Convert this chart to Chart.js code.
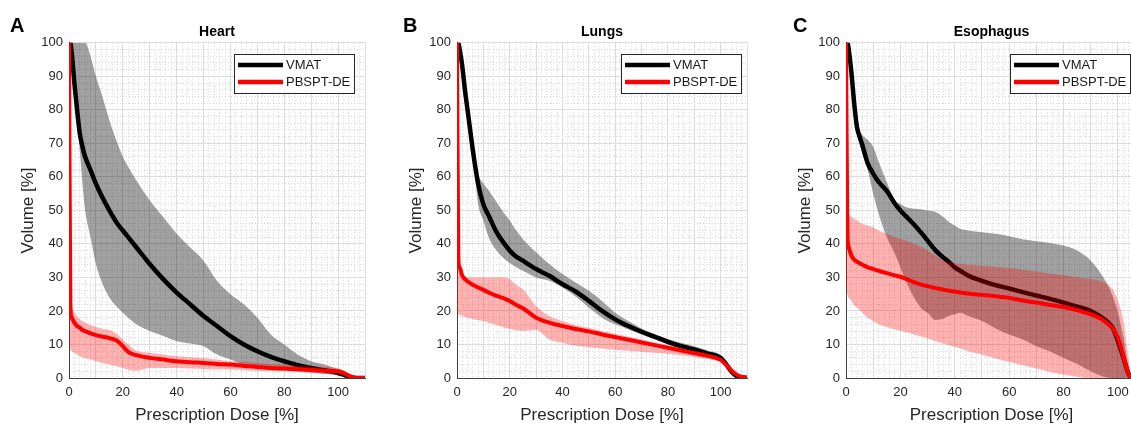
<!DOCTYPE html>
<html>
<head>
<meta charset="utf-8">
<script src="https://cdn.jsdelivr.net/npm/chart.js@4.4.1/dist/chart.umd.min.js"></script>
<style>
  html, body { margin: 0; padding: 0; background: #fff; overflow: hidden; }
  body { width: 1131px; height: 426px; position: relative; }
  canvas { position: absolute; top: 0; }
  .tag { position: absolute; top: 14px; font: bold 20px "Liberation Sans", Arial, sans-serif; color: #000; }
</style>
</head>
<body>
<canvas id="heartChart" width="380" height="426" style="left:0"></canvas>
<canvas id="lungsChart" width="380" height="426" style="left:380px"></canvas>
<canvas id="esoChart" width="380" height="426" style="left:760px"></canvas>
<div class="tag" style="left:10px">A</div>
<div class="tag" style="left:403px">B</div>
<div class="tag" style="left:793px">C</div>
<script>
// ---------- DATA (dose in %, volume in %) ----------

var doseAB = [0, 0.5, 1, 2, 3, 4, 5, 6, 8, 10, 12, 15, 18, 20, 22, 25, 30, 35, 40, 45, 50, 55, 60, 65, 70, 75, 80, 85, 90, 95, 100, 102, 104, 106, 108, 110];
var doseC = [0, 0.5, 1, 2, 3, 4, 5, 6, 8, 10, 12, 15, 18, 20, 22, 25, 28, 30, 33, 35, 38, 40, 42, 45, 50, 55, 60, 65, 70, 75, 80, 85, 90, 95, 98, 100, 102, 104, 105];

// Heart
var heartVmat   = [100, 100, 97, 88, 80, 73, 69, 66, 62, 58, 54.5, 50, 46, 44, 42, 39, 34, 29.5, 25.5, 22, 18.5, 15.5, 12.5, 10, 8, 6.3, 5, 3.8, 3, 2.3, 1.5, 1, 0.4, 0, 0, 0];
var heartVmatHi = [100, 100, 100, 100, 100, 100, 100, 100, 96, 90, 85, 77, 70, 66, 63, 59, 53, 48, 43, 39, 35, 29, 25, 22, 18, 13, 10, 7, 5, 4, 2.5, 1.5, 0.5, 0, 0, 0];
var heartVmatLo = [100, 98, 95, 85, 78, 68, 58, 50, 42, 34, 29, 24, 21, 19.5, 18, 16, 14, 12.5, 11, 10.3, 9.5, 7, 5.5, 4, 3.3, 3, 2.5, 2, 1.7, 1.3, 0.8, 0.5, 0.2, 0, 0, 0];
var heartPb     = [100, 22, 18, 16.5, 15.5, 15, 14.3, 14, 13.3, 12.8, 12.4, 11.9, 11, 9.5, 7.8, 6.8, 6, 5.5, 5, 4.7, 4.5, 4.2, 4, 3.6, 3.3, 3, 2.8, 2.6, 2.4, 2.2, 2, 1.5, 0.7, 0.2, 0, 0];
var heartPbHi   = [100, 23, 21, 19.5, 18.5, 17.5, 17, 16.5, 15.8, 15.2, 14.8, 14.3, 13, 11.5, 10, 8.2, 7.5, 7, 6.5, 6.2, 6, 5.5, 5, 4.8, 4.5, 4.2, 4, 3.8, 3.5, 3.2, 3, 2, 1, 0.3, 0, 0];
var heartPbLo   = [9, 8.5, 8, 7.5, 7, 6.5, 6.2, 6, 5.5, 5, 4.6, 4, 3.4, 3, 2.5, 2.2, 3, 3, 3, 2.8, 2.7, 2.6, 2.5, 2.3, 2.2, 2.1, 2, 1.8, 1.5, 1.2, 1, 0.7, 0.3, 0, 0, 0];

// Lungs
var lungsVmat   = [99, 100, 98, 93, 86, 80, 74, 68, 58, 51.8, 48.5, 43.5, 40, 38, 36.5, 35, 32.5, 30.5, 28, 25.8, 23, 20, 17.5, 15.5, 13.8, 12.3, 10.8, 9.5, 8.5, 7.3, 6, 4.2, 2, 0.6, 0.1, 0];
var lungsVmatHi = [100, 100, 100, 94, 87, 81, 75, 69.5, 61, 58, 56, 52.5, 49, 47, 44.5, 41.5, 37.5, 34, 31, 28.5, 26, 23, 19.5, 17, 14.8, 13.1, 11.6, 10.5, 9.5, 8.3, 6.8, 4.8, 2.4, 0.8, 0.2, 0];
var lungsVmatLo = [98, 99, 97, 92, 85, 79, 73, 67, 52, 47, 42, 38, 35.5, 34.3, 33.3, 32, 30, 29, 27, 24.3, 21, 18, 16, 14.5, 13, 11.5, 10, 8.7, 7.7, 6.5, 5.2, 3.6, 1.6, 0.4, 0, 0];
var lungsPb     = [100, 36, 33, 30.5, 29.5, 28.8, 28.3, 27.8, 27, 26.3, 25.5, 24.5, 23.7, 23, 22, 20.8, 18, 16.5, 15.5, 14.6, 13.9, 13, 12.2, 11.4, 10.6, 9.8, 9, 8.2, 7.4, 6.6, 5.4, 4, 2.3, 1, 0.4, 0.2];
var lungsPbHi   = [100, 37, 34, 31.5, 30.5, 30, 30, 30, 30, 30, 30, 30, 30, 29.5, 28, 26.5, 21.5, 18.5, 17, 15.7, 15, 14, 13.2, 12.3, 11.5, 10.6, 9.8, 8.9, 8.1, 7.2, 6, 4.5, 2.6, 1.2, 0.5, 0.2];
var lungsPbLo   = [19, 19, 18.8, 18.5, 18.2, 18, 17.8, 17.5, 17.2, 17, 16.5, 15.8, 15, 14.7, 14.3, 14, 14.3, 11.5, 10.5, 9.6, 9.2, 8.8, 8.4, 8.1, 7.8, 7.5, 7.2, 6.8, 6.3, 5.7, 4.8, 3.5, 2, 0.8, 0.3, 0.1];

// Esophagus
var esoVmat   = [99, 100, 98, 91, 82, 75, 72, 69.5, 64, 61, 58.5, 55.8, 52, 50, 48.3, 45.8, 43, 41, 38, 36.5, 34.5, 33, 32, 30.5, 29, 27.7, 26.7, 25.6, 24.6, 23.6, 22.5, 21.3, 20, 17.5, 15, 11, 6, 1, 0];
var esoVmatHi = [100, 100, 100, 93, 85, 79, 74, 72.5, 71, 69, 64.5, 58.5, 53, 52, 51, 50.5, 50.3, 50, 49.5, 48.5, 46.5, 45.5, 44.5, 44, 43.5, 43, 42.3, 41.4, 40.8, 40.3, 39.5, 38, 35, 29.5, 24.5, 19.5, 12, 3, 0];
var esoVmatLo = [98, 99, 97, 90, 81, 73, 70, 67, 62, 55, 49, 42, 37, 33, 29, 24, 20.5, 19.5, 17.3, 17.5, 18.6, 19, 19.5, 18.5, 17, 14.8, 13, 11.5, 9.5, 7.9, 6, 4.2, 2, 0.3, 0, 0, 0, 0, 0];
var esoPb     = [100, 44, 39, 36.5, 35.3, 34.7, 34.2, 33.8, 33, 32.5, 32, 31.3, 30.6, 30.2, 29.6, 28.6, 27.8, 27.4, 26.8, 26.5, 26, 25.8, 25.5, 25.2, 24.8, 24.4, 23.9, 23.1, 22.5, 21.8, 21.2, 20.2, 19, 17, 14.8, 12, 6.4, 1, 0];
var esoPbHi   = [100, 49, 48.5, 48, 47.5, 47, 46.5, 46, 45.5, 45, 44, 43, 42, 41.5, 41, 40, 39, 38, 36.5, 35.5, 34.5, 34.2, 34, 33.8, 33.5, 33.2, 32.8, 32.3, 31.8, 31.2, 30.7, 30, 29.5, 28.5, 26.5, 23, 17, 5, 0];
var esoPbLo   = [28, 25, 24, 23, 21.8, 21, 20.3, 19.5, 18, 17, 16, 15.2, 14.5, 14, 13.7, 13, 12.3, 11.8, 11, 10.5, 9.8, 9.3, 8.8, 8, 7, 5.8, 4.8, 3.8, 2.8, 1.8, 1, 0.4, 0, 0, 0, 0, 0, 0, 0];

var seriesNames = ['VMAT', 'PBSPT-DE'];
var xTitle = 'Prescription Dose [%]';
var yTitle = 'Volume [%]';

Chart.defaults.font.family = '"Liberation Sans", Arial, sans-serif';
Chart.defaults.color = '#262626';
Chart.defaults.animation = false;

function pts(xs, ys) {
  return xs.map(function(x, i) { return {x: x, y: ys[i]}; });
}

// legend box drawn inside the plot, top right, like the matlab one
var legendBox = {
  id: 'legendBox',
  afterDraw: function(chart, args, opts) {
    var ctx = chart.ctx, area = chart.chartArea;
    var w = 120, h = 39;
    var left = Math.round(area.right - opts.inset - w), top = Math.round(area.top + 11);
    var colors = ['#000000', '#ff0000'];
    ctx.save();
    ctx.fillStyle = '#fff';
    ctx.fillRect(left, top, w, h);
    ctx.strokeStyle = '#262626';
    ctx.lineWidth = 1;
    ctx.strokeRect(left + 0.5, top + 0.5, w, h);
    ctx.font = '13px "Liberation Sans", Arial, sans-serif';
    ctx.textBaseline = 'middle';
    seriesNames.forEach(function(name, i) {
      var y = top + 11 + i * 17;
      ctx.strokeStyle = colors[i];
      ctx.lineWidth = 4.5;
      ctx.beginPath();
      ctx.moveTo(left + 4, y);
      ctx.lineTo(left + 49, y);
      ctx.stroke();
      ctx.fillStyle = '#1a1a1a';
      ctx.fillText(name, left + 52, y);
    });
    ctx.restore();
  }
};

function makePanel(id, title, dose, vmat, vmatHi, vmatLo, pb, pbHi, pbLo, o) {
  var line = {pointRadius: 0, cubicInterpolationMode: 'monotone', borderJoinStyle: 'round', borderCapStyle: 'round'};
  var band = {pointRadius: 0, cubicInterpolationMode: 'monotone', borderWidth: 0, borderColor: 'transparent'};
  return new Chart(document.getElementById(id), {
    type: 'line',
    data: {
      datasets: [
        Object.assign({label: seriesNames[1], data: pts(dose, pb), borderColor: '#ff0000', borderWidth: 4, fill: false}, line),
        Object.assign({label: 'pb upper', data: pts(dose, pbHi), backgroundColor: 'rgba(255,0,0,0.3)', fill: '+1'}, band),
        Object.assign({label: 'pb lower', data: pts(dose, pbLo), fill: false}, band),
        Object.assign({label: seriesNames[0], data: pts(dose, vmat), borderColor: '#000000', borderWidth: 4.5, fill: false}, line),
        Object.assign({label: 'vmat upper', data: pts(dose, vmatHi), backgroundColor: 'rgba(0,0,0,0.37)', fill: '+1'}, band),
        Object.assign({label: 'vmat lower', data: pts(dose, vmatLo), fill: false}, band)
      ]
    },
    options: {
      responsive: false,
      layout: {padding: {left: 0, right: o.padRight, top: 0, bottom: 0}},
      plugins: {
        legend: {display: false},
        tooltip: {enabled: false},
        title: {display: true, text: title, fullSize: false, color: '#000', font: {size: 14, weight: 'bold', lineHeight: 1.2}, padding: {top: 24, bottom: 2}},
        legendBox: {inset: o.legendInset}
      },
      scales: {
        x: {
          type: 'linear', min: 0, max: o.xMax,
          border: {color: '#404040', width: 1},
          grid: {color: '#dedede', drawTicks: false},
          ticks: {stepSize: 10, includeBounds: false, autoSkip: false, maxRotation: 0, padding: 7, font: {size: 13},
            callback: function(v) { return (v % 20 === 0 && v <= 100) ? v : ''; }},
          title: {display: true, text: xTitle, font: {size: 17, lineHeight: 1}, padding: {top: 0, bottom: 2}},
          afterFit: function(s) { s.height = 48; }
        },
        xm: {
          type: 'linear', position: 'bottom', min: 0, max: o.xMax,
          border: {display: false, dash: [1, 2]},
          grid: {color: '#dadada', drawTicks: false},
          ticks: {display: false, stepSize: 2, includeBounds: false},
          afterFit: function(s) { s.height = 0; }
        },
        y: {
          min: 0, max: 100,
          border: {color: '#404040', width: 1},
          grid: {color: '#dedede', drawTicks: false},
          ticks: {stepSize: 10, padding: 6, font: {size: 13}},
          title: {display: true, text: yTitle, font: {size: 17, lineHeight: 1}, padding: {top: o.yWidth - 49.5, bottom: 0}},
          afterFit: function(s) { s.width = o.yWidth; }
        },
        ym: {
          position: 'left', min: 0, max: 100,
          border: {display: false, dash: [1, 2]},
          grid: {color: '#dadada', drawTicks: false},
          ticks: {display: false, stepSize: 2},
          afterFit: function(s) { s.width = 0; }
        }
      }
    },
    plugins: [legendBox]
  });
}

makePanel('heartChart', 'Heart', doseAB, heartVmat, heartVmatHi, heartVmatLo, heartPb, heartPbHi, heartPbLo,
  {xMax: 110, yWidth: 69, padRight: 15, legendInset: 11});
makePanel('lungsChart', 'Lungs', doseAB, lungsVmat, lungsVmatHi, lungsVmatLo, lungsPb, lungsPbHi, lungsPbLo,
  {xMax: 110, yWidth: 77, padRight: 13, legendInset: 6});
makePanel('esoChart', 'Esophagus', doseC, esoVmat, esoVmatHi, esoVmatLo, esoPb, esoPbHi, esoPbLo,
  {xMax: 107, yWidth: 86, padRight: 3, legendInset: 7});
</script>
</body>
</html>
